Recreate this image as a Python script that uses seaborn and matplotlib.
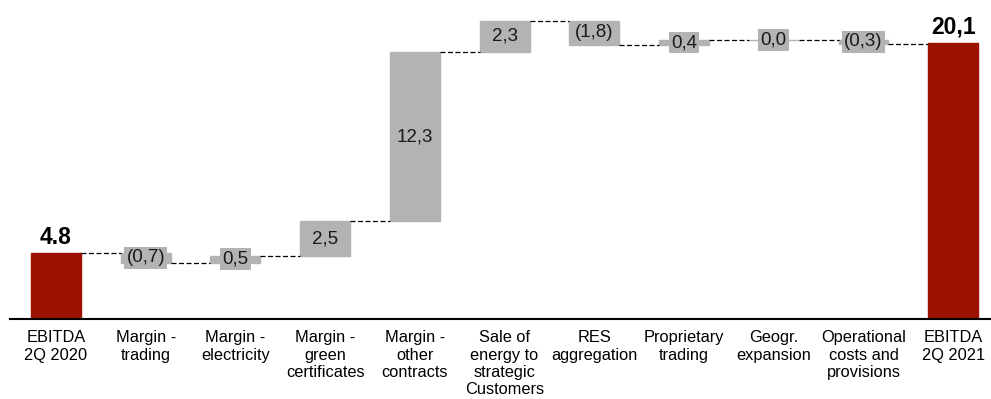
import numpy as np
import pandas as pd
import seaborn as sns
import matplotlib.pyplot as plt

sns.set_style("white")
plt.rcParams["font.family"] = ["Liberation Sans", "DejaVu Sans"]

# waterfall data
categories = ["EBITDA\n2Q 2020", "Margin -\ntrading", "Margin -\nelectricity",
              "Margin -\ngreen\ncertificates", "Margin -\nother\ncontracts",
              "Sale of\nenergy to\nstrategic\nCustomers", "RES\naggregation",
              "Proprietary\ntrading", "Geogr.\nexpansion",
              "Operational\ncosts and\nprovisions", "EBITDA\n2Q 2021"]
values = [4.8, -0.7, 0.5, 2.5, 12.3, 2.3, -1.8, 0.4, 0.0, -0.3, 20.1]
value_labels = ["4.8", "(0,7)", "0,5", "2,5", "12,3", "2,3", "(1,8)", "0,4", "0,0", "(0,3)", "20,1"]
is_total = [True, False, False, False, False, False, False, False, False, False, True]

red = "#9b1300"
gray = "#b3b3b3"

bottoms, heights, ends = [], [], []
level = 0.0
for v, tot in zip(values, is_total):
    if tot:
        bottoms.append(0.0)
        heights.append(v)
        level = v
    else:
        bottoms.append(min(level, level + v))
        heights.append(abs(v))
        level = level + v
    ends.append(level)

df = pd.DataFrame({"category": categories, "height": heights})

fig = plt.figure(figsize=(9.91, 3.99), dpi=100)
ax = fig.add_axes([10 / 991, 80 / 399, 980 / 991, 309 / 399])

bw = 0.557
sns.barplot(data=df, x="category", y="height", bottom=np.array(bottoms), color=gray,
            width=bw, errorbar=None, ax=ax, edgecolor=gray, linewidth=1)

for i, p in enumerate(ax.patches):
    if is_total[i]:
        p.set_facecolor(red)
        p.set_edgecolor(red)

# connectors
for i in range(len(values) - 1):
    ax.plot([i + bw / 2, i + 1 - bw / 2], [ends[i], ends[i]], color="black",
            linestyle=(0, (4, 2)), linewidth=0.9)

# value labels
for i, (lab, tot) in enumerate(zip(value_labels, is_total)):
    if tot:
        ax.text(i, heights[i] + 0.3, lab, ha="center", va="bottom",
                fontsize=16.5, fontweight="bold", color="black")
    else:
        ax.text(i, bottoms[i] + heights[i] / 2, lab, ha="center", va="center",
                fontsize=13.5, color="#1a1a1a",
                bbox=dict(boxstyle="square,pad=0.12", facecolor=gray, edgecolor="none"))

ax.set_xlim(-0.513, 10.41)
ax.set_ylim(0, 22.47)
ax.set_yticks([])
ax.set_xlabel("")
ax.set_ylabel("")
for s in ["left", "top", "right"]:
    ax.spines[s].set_visible(False)
ax.spines["bottom"].set_color("black")
ax.spines["bottom"].set_linewidth(1.5)
ax.tick_params(axis="x", length=0, pad=8, labelsize=11.8, colors="black")

fig.savefig("out.png", dpi=100)
